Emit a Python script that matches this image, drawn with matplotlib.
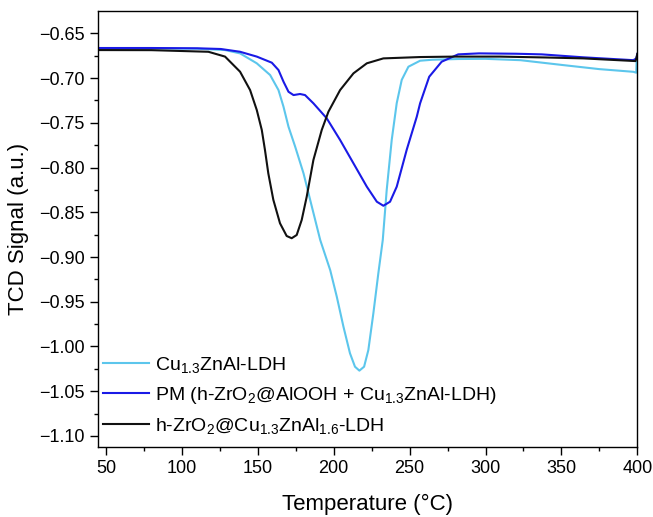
# TPR curves - TCD signal vs temperature

import numpy as np
import matplotlib.pyplot as plt

plt.rcParams['font.family'] = ['Liberation Sans', 'DejaVu Sans']
plt.rcParams['mathtext.fontset'] = 'custom'
plt.rcParams['mathtext.rm'] = 'Liberation Sans'
plt.rcParams['mathtext.it'] = 'Liberation Sans:italic'
plt.rcParams['mathtext.default'] = 'regular'

# Cu1.3ZnAl-LDH (light blue)
t_cu = [45, 80, 110, 128.4, 138.3, 149.3, 158.1, 163.6, 166.9, 170.2, 174.6, 180.1, 185.6,
        191.1, 197.7, 202, 206.4, 210.7, 214, 216.9, 220, 222.8, 226.1, 229.4, 232.3, 234.9,
        238.2, 241.5, 244.8, 249.2, 256.9, 265, 282, 300, 323, 350.7, 375, 397.4, 399.3,
        399.5, 400]
v_cu = [-0.6668, -0.6668, -0.6672, -0.6687, -0.6724, -0.6835, -0.6966, -0.7134, -0.732,
        -0.7544, -0.7767, -0.8065, -0.8438, -0.881, -0.9148, -0.9443, -0.9779, -1.0076,
        -1.0226, -1.027, -1.0226, -1.004, -0.963, -0.918, -0.881, -0.825, -0.7692, -0.728,
        -0.702, -0.6873, -0.6806, -0.6795, -0.6787, -0.6785, -0.680, -0.6854, -0.690, -0.693,
        -0.694, -0.682, -0.681]

# PM (h-ZrO2@AlOOH + Cu1.3ZnAl-LDH) (blue)
t_pm = [45, 80, 110, 125.6, 138.3, 149.3, 159.2, 163.6, 166.9, 170.2, 173.5, 177.8, 181.1,
        186.6, 195.4, 204.2, 213, 221.8, 228.4, 232.7, 237.1, 241.5, 248.1, 254.7, 256.9,
        262.9, 271.1, 282, 295.7, 320, 337, 364.4, 397.4, 399.3, 400]
v_pm = [-0.6664, -0.6664, -0.6667, -0.6675, -0.6706, -0.676, -0.6828, -0.691, -0.704, -0.7153,
        -0.719, -0.7178, -0.719, -0.7282, -0.745, -0.7692, -0.7953, -0.8214, -0.8382, -0.8427,
        -0.8382, -0.8214, -0.780, -0.7432, -0.7282, -0.6985, -0.6817, -0.6735, -0.6724,
        -0.6728, -0.6735, -0.6768, -0.680, -0.678, -0.673]

# h-ZrO2@Cu1.3ZnAl1.6-LDH (black)
t_zr = [45, 80, 117.4, 128.4, 138.3, 144.9, 149.3, 152.6, 154.7, 156.9, 160.2, 164.6, 169,
        172.3, 175.6, 178.9, 182.2, 186.6, 192.1, 196.5, 204.2, 213, 221.8, 232.7, 256.9, 280,
        309.6, 340, 364.4, 398.8, 399.5, 400]
v_zr = [-0.6687, -0.6688, -0.6706, -0.676, -0.6929, -0.7134, -0.7357, -0.758, -0.7804, -0.8065,
        -0.836, -0.8623, -0.8765, -0.879, -0.8754, -0.8586, -0.8326, -0.7916, -0.758, -0.7376,
        -0.7134, -0.6947, -0.6835, -0.678, -0.6765, -0.676, -0.676, -0.677, -0.678, -0.681,
        -0.677, -0.673]

labels = [r'Cu$_{1.3}$ZnAl-LDH',
          r'PM (h-ZrO$_2$@AlOOH + Cu$_{1.3}$ZnAl-LDH)',
          r'h-ZrO$_2$@Cu$_{1.3}$ZnAl$_{1.6}$-LDH']
colors = ['#5cc6ec', '#1a1ae6', '#111111']

fig = plt.figure(figsize=(6.53, 5.17), dpi=100)
ax = fig.add_axes([0.1496, 0.136, 0.8264, 0.8433])

ax.plot(t_cu, v_cu, color=colors[0], lw=1.5, label=labels[0])
ax.plot(t_pm, v_pm, color=colors[1], lw=1.5, label=labels[1])
ax.plot(t_zr, v_zr, color=colors[2], lw=1.5, label=labels[2])

ax.set_xlim(44.5, 400)
ax.set_ylim(-1.112, -0.6247)
ax.set_xticks(np.arange(50, 401, 50))
ax.set_xticks(np.arange(75, 400, 50), minor=True)
yt = np.arange(-1.10, -0.64, 0.05)
ax.set_yticks(yt)
ax.set_yticks(np.arange(-1.075, -0.63, 0.05), minor=True)
ax.set_yticklabels([('%.2f' % v).replace('-', '\u2212') for v in yt])

ax.tick_params(which='major', length=5.5, width=1, labelsize=13, pad=4, direction='out')
ax.tick_params(which='minor', length=3, width=1, direction='out')
for s in ax.spines.values():
    s.set_linewidth(1)

ax.set_xlabel('Temperature (°C)', fontsize=16)
ax.set_ylabel('TCD Signal (a.u.)', fontsize=16)
ax.xaxis.set_label_coords(0.5, -0.108)
ax.yaxis.set_label_coords(-0.127, 0.5)

ax.legend(loc='lower left', bbox_to_anchor=(-0.015, -0.006), frameon=False, fontsize=14,
          handlelength=2.35, handletextpad=0.33, labelspacing=0.5, borderaxespad=0.3)

fig.savefig('out.png', dpi=100)
